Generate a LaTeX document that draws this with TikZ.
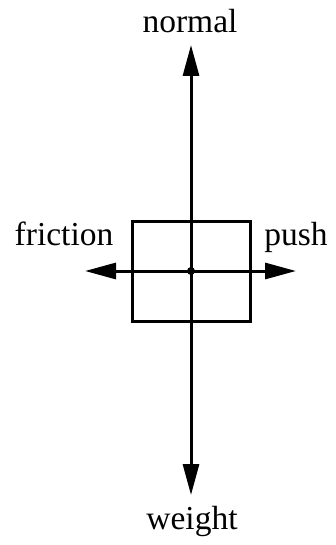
\documentclass[tikz,border=0pt]{standalone}
\usepackage{fontspec}
\setmainfont{Liberation Serif}
\usepackage{tikz}
\usetikzlibrary{arrows.meta}

\begin{document}
\begin{tikzpicture}[
  x=1bp, y=-1bp,
  font=\fontsize{33.5bp}{38bp}\selectfont,
  lbl/.style={anchor=base, inner sep=0pt},
  body/.style={draw, line width=3bp},
  force/.style={-{Triangle[length=31bp, width=16bp]}, line width=3bp}
]
\useasboundingbox (0,0) rectangle (335,545);
% block and its centre
\node[body, minimum width=118bp, minimum height=99bp, inner sep=0pt] (box) at (191,271.5) {};
\coordinate (c) at (191,271);
% arrow tips
\coordinate (tipN) at (191,45);
\coordinate (tipW) at (191,495);
\coordinate (tipF) at (85,271);
\coordinate (tipP) at (296,271);
% labels
\node[lbl] (normal) at (190,33) {normal};
\node[lbl] (weight) at (192,529) {weight};
\node[lbl] (friction) at (64,245) {friction};
\node[lbl] (push) at (296,245) {push};

\draw[force] (c) -- (tipN);
\draw[force] (c) -- (tipW);
\draw[force] (c) -- (tipF);
\draw[force] (c) -- (tipP);
\fill (c) circle (4bp);
\end{tikzpicture}
\end{document}
